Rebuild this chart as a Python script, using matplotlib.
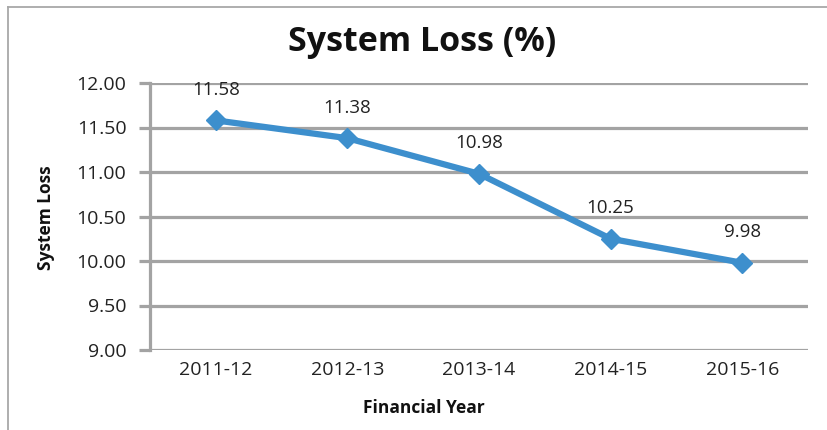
import matplotlib
matplotlib.use("Agg")
import matplotlib.pyplot as plt
from matplotlib.lines import Line2D

years = ["2011-12", "2012-13", "2013-14", "2014-15", "2015-16"]
loss = [11.58, 11.38, 10.98, 10.25, 9.98]
yticks = [9.0, 9.5, 10.0, 10.5, 11.0, 11.5, 12.0]

plt.rcParams['font.family'] = ['Open Sans', 'DejaVu Sans']

fig = plt.figure(figsize=(8.27, 4.30), dpi=100)
ax = fig.add_axes([150/827, 1-350/430, (808-150)/827, (350-83)/430])

grid_c = '#A3A3A3'
line_c = '#3D8FCD'

x = list(range(len(years)))
ax.plot(x, loss, color=line_c, lw=4.5, marker='D', markersize=10, zorder=3,
        solid_capstyle='round')
for xi, v in zip(x, loss):
    ax.annotate(f"{v:.2f}", (xi, v), xytext=(0, 22), textcoords='offset points',
                ha='center', va='center', fontsize=13.5, color='#222222')

ax.set_xlim(-0.5, len(years) - 0.5)
ax.set_ylim(9.0, 12.0)
ax.set_yticks(yticks)
ax.set_yticklabels([f"{t:.2f}" for t in yticks])
ax.set_xticks(x)
ax.set_xticklabels(years)
ax.yaxis.grid(True, color=grid_c, lw=2.3)
ax.set_axisbelow(True)
for s in ['top', 'right', 'bottom']:
    ax.spines[s].set_visible(False)
ax.spines['left'].set_color(grid_c)
ax.spines['left'].set_linewidth(2.3)
ax.tick_params(axis='y', length=8, width=2.3, color=grid_c, labelsize=14,
               labelcolor='#222222', pad=9)
ax.tick_params(axis='x', length=0, labelsize=14, labelcolor='#222222', pad=8)

fig.text(424/827, 1-408/430, "Financial Year", ha='center', va='center',
         fontsize=12.5, fontweight='bold', color='#111111')
fig.text(46/827, 1-218/430, "System Loss", ha='center', va='center',
         rotation=90, fontsize=12.5, fontweight='bold', color='#111111')

fig.text(422/827, 1-42/430, "System Loss (%)", ha='center', va='center',
         fontsize=24.5, fontweight='bold', color='#111111')

# outer border (top and left visible)
fig.add_artist(Line2D([8/827, 1], [1-7/430, 1-7/430], transform=fig.transFigure,
                      color='#A8A8A8', lw=1.3))
fig.add_artist(Line2D([8/827, 8/827], [0, 1-7/430], transform=fig.transFigure,
                      color='#A8A8A8', lw=1.3))

fig.savefig("out.png", dpi=100)
